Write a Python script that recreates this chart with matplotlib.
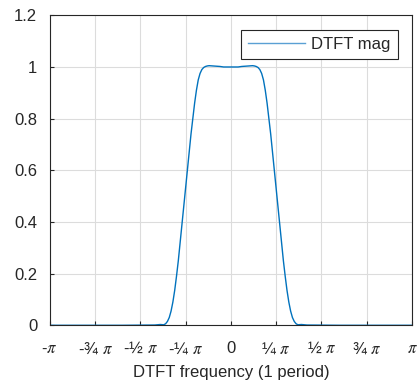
import matplotlib.pyplot as plt

# DTFT magnitude (x in units of pi)
freq = [-1.0, -0.6, -0.42, -0.39, -0.37, -0.36, -0.35, -0.34, -0.33, -0.32, -0.31,
        -0.30, -0.29, -0.28, -0.27, -0.26, -0.25, -0.24, -0.23, -0.22, -0.21,
        -0.20, -0.19, -0.18, -0.17, -0.16, -0.15, -0.14, -0.13, -0.12, -0.10,
        -0.08, -0.06, -0.04, -0.02, 0.0,
        0.02, 0.04, 0.06, 0.08, 0.10, 0.12, 0.13, 0.14, 0.15, 0.16, 0.17,
        0.18, 0.19, 0.20, 0.21, 0.22, 0.23, 0.24, 0.25, 0.26, 0.27, 0.28,
        0.29, 0.30, 0.31, 0.32, 0.33, 0.34, 0.35, 0.36, 0.37, 0.39, 0.42, 0.6, 1.0]
mag = [0.0, 0.0, 0.001, 0.003, 0.002, 0.006, 0.015, 0.03, 0.055, 0.09, 0.135,
       0.19, 0.25, 0.32, 0.39, 0.46, 0.53, 0.60, 0.67, 0.74, 0.80,
       0.86, 0.91, 0.95, 0.975, 0.99, 0.998, 1.002, 1.004, 1.005, 1.004,
       1.003, 1.002, 1.0, 1.0, 1.0,
       1.0, 1.0, 1.002, 1.003, 1.004, 1.005, 1.004, 1.002, 0.998, 0.99, 0.975,
       0.95, 0.91, 0.86, 0.80, 0.74, 0.67, 0.60, 0.53, 0.46, 0.39, 0.32,
       0.25, 0.19, 0.135, 0.09, 0.055, 0.03, 0.015, 0.006, 0.002, 0.003, 0.001, 0.0, 0.0]

xticks = [-1, -0.75, -0.5, -0.25, 0, 0.25, 0.5, 0.75, 1]
xlabels = [r'-$\pi$', r'-¾ $\pi$', r'-½ $\pi$', r'-¼ $\pi$', '0',
           r'¼ $\pi$', r'½ $\pi$', r'¾ $\pi$', r'$\pi$']
yticks = [0, 0.2, 0.4, 0.6, 0.8, 1, 1.2]
ylabels = ['0', '0.2', '0.4', '0.6', '0.8', '1', '1.2']

plt.rcParams['font.family'] = ['Liberation Sans', 'DejaVu Sans']
plt.rcParams['mathtext.fontset'] = 'stix'
dark = '#262626'

fig = plt.figure(figsize=(4.19, 3.83), dpi=100)
ax = fig.add_axes([0.1186, 0.1507, 0.8647, 0.8093])
ax.plot(freq, mag, color='#0072BD', lw=1.0, label='DTFT mag')
ax.set_xlim(-1, 1)
ax.set_ylim(0, 1.2)
ax.set_xticks(xticks)
ax.set_xticklabels(xlabels)
ax.set_yticks(yticks)
ax.set_yticklabels(ylabels)
ax.tick_params(direction='in', length=3, labelsize=12, colors=dark)
ax.tick_params(axis='x', pad=11)
ax.tick_params(axis='y', pad=9)
ax.grid(True, color='#dcdcdc', lw=0.8)
ax.set_axisbelow(True)
for s in ax.spines.values():
    s.set_color(dark)
    s.set_linewidth(0.8)
ax.set_xlabel('DTFT frequency (1 period)', fontsize=12, color=dark, labelpad=6)

leg = ax.legend(loc='upper right', bbox_to_anchor=(0.961, 0.952), fontsize=12,
                fancybox=False, framealpha=1, borderpad=0.42, handlelength=3.4,
                handletextpad=0.4, borderaxespad=0)
leg.get_frame().set_edgecolor(dark)
leg.get_frame().set_linewidth(0.8)
leg.get_lines()[0].set_color('#5aa0d4')
for t in leg.get_texts():
    t.set_color(dark)

fig.savefig('out.png', dpi=100)
